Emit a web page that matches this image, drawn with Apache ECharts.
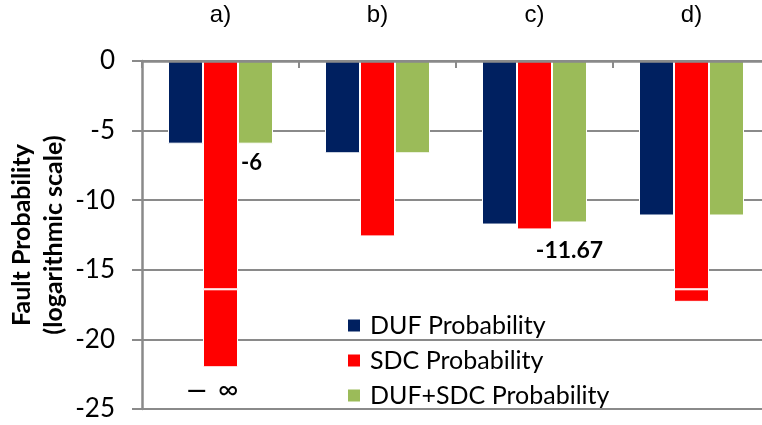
<!DOCTYPE html>
<html>
<head>
<meta charset="utf-8">
<script src="https://cdn.jsdelivr.net/npm/echarts@6/dist/echarts.min.js"></script>
<style>html,body{margin:0;padding:0;background:#fff;}#c{width:762px;height:425px;}</style>
</head>
<body>
<div id="c"></div>
<script>
// ---- data ----
const categories = ['a)', 'b)', 'c)', 'd)'];
const dufValues = [-5.94, -6.63, -11.75, -11.1];
const sdcValues = [-22, -12.6, -12.1, -17.3];      // a) is −∞, drawn to -22
const dufSdcValues = [-5.94, -6.63, -11.6, -11.1];
const sdcBreakAt = -16.4;                            // white break mark on long SDC bars
const yTicks = { min: -25, max: 0, interval: 5 };
const seriesNames = ['DUF Probability', 'SDC Probability', 'DUF+SDC Probability'];
const annotations = { dufSdc: ['-6', '', '-11.67', ''], sdcTail: ['—', '', '', ''], sdcTailSym: ['∞', '', '', ''] };

// ---- chart ----
const FONT = 'Lato';
const GREY = '#8a8a8a';
const colors = ['#002060', '#ff0000', '#9bbb59'];
const BAR_W = 35;
const border = { borderColor: '#ffffff', borderWidth: 1 };

const sdcHead = sdcValues.map(v => Math.max(v, sdcBreakAt));
const sdcTail = sdcValues.map((v, i) => {
  if (v >= sdcBreakAt) return '-';
  const item = { value: v - sdcBreakAt };
  if (annotations.sdcTail[i]) {
    item.label = { show: true, position: 'bottom', distance: 9,
      formatter: '{d|' + annotations.sdcTail[i] + '}{s|' + annotations.sdcTailSym[i] + '}',
      rich: {
        d: { fontFamily: FONT, fontSize: 25, fontWeight: 'bold', color: '#000', padding: [0, 11, 0, 0] },
        s: { fontFamily: FONT, fontSize: 28, color: '#000' }
      },
      offset: [-8, 0] };
  }
  return item;
});
const greenData = dufSdcValues.map((v, i) => {
  if (!annotations.dufSdc[i]) return v;
  return { value: v, label: { show: true, position: 'bottom', distance: i === 0 ? 8 : 17,
    formatter: annotations.dufSdc[i], fontFamily: FONT, fontWeight: 'bold', fontSize: i === 0 ? 22 : 23,
    color: '#000', offset: [i === 0 ? -4 : 0, 0] } };
});

const chart = echarts.init(document.getElementById('c'), null, { renderer: 'canvas' });
chart.setOption({
  animation: false,
  backgroundColor: '#ffffff',
  grid: { left: 142, right: -8, top: 61, bottom: 16, containLabel: false, outerBoundsMode: 'none' },
  legend: {
    data: seriesNames,
    orient: 'vertical',
    left: 341, top: 308,
    itemWidth: 14, itemHeight: 14, itemGap: 10,
    icon: 'rect',
    textStyle: { fontFamily: FONT, fontSize: 25, color: '#000', lineHeight: 24, padding: [0, 0, 0, 4] }
  },
  xAxis: {
    type: 'category', data: categories, position: 'top', z: 10,
    axisLine: { show: true, lineStyle: { color: GREY, width: 2.5 } },
    axisTick: { show: true, inside: true, length: 7, lineStyle: { color: GREY, width: 2 } },
    axisLabel: { fontFamily: 'Liberation Sans', fontSize: 24, color: '#000', margin: 34 },
    splitLine: { show: false }
  },
  yAxis: {
    type: 'value', min: yTicks.min, max: yTicks.max, interval: yTicks.interval,
    name: 'Fault Probability\n(logarithmic scale)', nameLocation: 'middle', nameGap: 72, nameRotate: 90,
    nameMoveOverlap: false,
    nameTextStyle: { fontFamily: FONT, fontSize: 25, fontWeight: 'bold', color: '#000', lineHeight: 32 },
    axisLine: { show: true, lineStyle: { color: GREY, width: 2.5 } },
    axisTick: { show: true, length: 10, lineStyle: { color: GREY, width: 2 } },
    axisLabel: { fontFamily: FONT, fontSize: 26, color: '#000', margin: 27 },
    splitLine: { show: true, lineStyle: { color: GREY, width: 2 } }
  },
  series: [
    { name: seriesNames[0], type: 'bar', data: dufValues, barWidth: BAR_W, barGap: '0%',
      itemStyle: Object.assign({ color: colors[0] }, border) },
    { name: seriesNames[1], type: 'bar', stack: 'sdc', data: sdcHead, barWidth: BAR_W, barGap: '0%',
      itemStyle: Object.assign({ color: colors[1] }, border) },
    { name: 'SDC tail', type: 'bar', stack: 'sdc', data: sdcTail, barWidth: BAR_W, barGap: '0%',
      itemStyle: Object.assign({ color: colors[1] }, border), legendHoverLink: false },
    { name: seriesNames[2], type: 'bar', data: greenData, barWidth: BAR_W, barGap: '0%',
      itemStyle: Object.assign({ color: colors[2] }, border) }
  ]
});
</script>
</body>
</html>
